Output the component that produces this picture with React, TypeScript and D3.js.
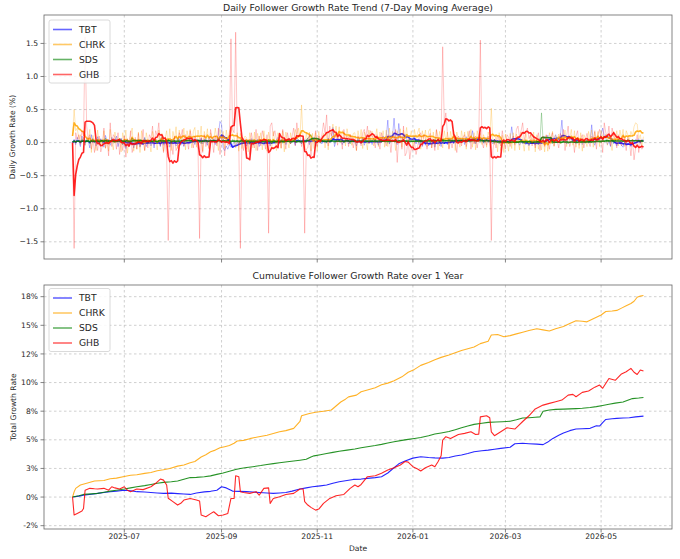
import React from "react";
import * as d3 from "d3";

// ---------- data ----------
const START_UTC = Date.UTC(2025, 4, 29); // first observation: 2025-05-29
const DAY_MS = 86400000;

const seriesNames = ["TBT", "CHRK", "SDS", "GHB"];
const seriesColors = ["#0000ff", "#ffa500", "#008000", "#ff0000"];

const xTickDates = ["2025-07-01", "2025-09-01", "2025-11-01", "2026-01-01", "2026-03-01", "2026-05-01"];
const xTickLabels = ["2025-07", "2025-09", "2025-11", "2026-01", "2026-03", "2026-05"];
const dailyTicks = [-1.5, -1, -0.5, 0, 0.5, 1, 1.5];
const dailyTickLabels = ["−1.5", "−1.0", "−0.5", "0.0", "0.5", "1.0", "1.5"];
const cumTicks = [-2.5, 0, 2.5, 5, 7.5, 10, 12.5, 15, 17.5];
const cumTickLabels = ["-2%", "0%", "3%", "5%", "8%", "10%", "12%", "15%", "18%"];

// daily growth rate (%), one value per day from 2025-05-29
const tbtDaily = [
  0.00, 0.05, -0.03, 0.08, 0.02, -0.06, 0.10, 0.01, -0.04, 0.07,
  0.03, -0.08, 0.12, 0.00, 0.04, -0.05, 0.09, -0.02, 0.06, 0.01,
  -0.07, 0.11, 0.02, 0.05, -0.04, 0.08, -0.01, 0.03, 0.10, -0.06,
  0.04, 0.07, -0.03, 0.02, -0.09, 0.03, -0.05, -0.02, 0.06, -0.08,
  0.01, -0.04, 0.05, -0.07, 0.02, -0.03, 0.08, -0.06, -0.01, 0.04,
  -0.05, 0.03, -0.08, 0.06, -0.02, 0.01, -0.06, 0.09, -0.04, 0.00,
  -0.03, 0.05, -0.07, 0.02, -0.01, 0.04, -0.05, -0.02, 0.06, -0.04,
  0.01, -0.06, 0.03, 0.00, -0.02, 0.08, 0.02, 0.06, -0.03, 0.05,
  0.04, 0.00, 0.07, -0.02, 0.05, 0.03, -0.04, 0.09, 0.02, 0.01,
  0.06, -0.03, 0.04, 0.12, 0.32, 0.28, -0.08, -0.12, -0.05, -0.10,
  -0.03, -0.07, -0.04, 0.02, -0.06, 0.01, -0.03, 0.04, -0.02, 0.00,
  0.03, -0.05, 0.02, -0.03, 0.06, -0.04, 0.00, -0.02, 0.05, -0.06,
  0.02, -0.01, -0.04, 0.03, -0.02, 0.04, -0.05, 0.01, 0.02, -0.01,
  0.04, 0.08, -0.02, 0.05, 0.00, 0.07, -0.03, 0.03, 0.06, -0.01,
  0.05, 0.02, -0.04, 0.09, 0.01, 0.04, -0.02, 0.06, 0.03, 0.00,
  0.07, -0.03, 0.04, 0.02, 0.08, -0.05, 0.03, 0.06, 0.01, -0.02,
  0.05, 0.03, -0.01, 0.07, 0.00, 0.04, 0.23, -0.06, 0.02, 0.05,
  0.01, 0.06, -0.03, 0.04, 0.02, 0.07, -0.02, 0.03, 0.05, 0.00,
  0.04, -0.05, 0.06, 0.01, -0.02, 0.08, -0.04, 0.03, 0.02, -0.01,
  0.05, -0.03, 0.07, 0.00, 0.02, -0.04, 0.06, 0.03, 0.10, 0.05,
  0.08, 0.34, -0.02, 0.06, 0.10, 0.37, 0.04, -0.03, 0.29, 0.07,
  0.09, 0.02, 0.12, 0.05, -0.01, 0.08, 0.03, 0.06, 0.10, -0.02,
  0.04, -0.03, 0.01, -0.06, 0.02, -0.04, 0.03, -0.05, 0.00, -0.02,
  0.05, -0.07, 0.02, -0.01, 0.03, -0.06, 0.04, -0.02, 0.01, -0.03,
  0.06, 0.01, 0.04, -0.02, 0.08, 0.03, 0.00, 0.07, 0.02, 0.05,
  -0.03, 0.09, 0.04, 0.01, 0.06, 0.18, 0.03, -0.02, 0.07, 0.04,
  0.02, 0.05, -0.01, 0.08, 0.03, 0.00, 0.06, 0.04, -0.02, 0.05,
  0.01, 0.03, -0.02, 0.04, 0.00, 0.02, -0.01, 0.03, 0.01, 0.05,
  0.24, 0.06, 0.02, -0.01, 0.03, -0.04, 0.01, -0.02, 0.02, -0.03,
  0.00, -0.05, 0.03, -0.02, 0.01, -0.04, 0.02, -0.03, 0.01, 0.00,
  0.05, 0.09, 0.02, 0.11, 0.04, 0.08, 0.00, 0.07, 0.12, 0.03,
  0.06, 0.10, 0.34, 0.02, 0.05, -0.02, 0.08, 0.04, 0.06, 0.01,
  0.05, -0.02, 0.04, 0.01, 0.06, -0.03, 0.03, 0.02, 0.05, -0.01,
  0.03, 0.27, 0.01, -0.04, 0.05, 0.09, 0.04, 0.12, 0.22, 0.10,
  0.06, -0.03, 0.02, -0.06, 0.04, -0.02, 0.01, -0.05, 0.03, 0.00,
  -0.04, -0.07, 0.02, -0.05, -0.03, 0.01, -0.06, 0.04, 0.02, 0.05,
  0.03, 0.06, -0.01, 0.04, 0.02,
];

const chrkDaily = [
  0.10, 0.50, 0.18, 0.22, 0.05, 0.12, 0.03, 0.08, -0.04, 0.06,
  0.02, 0.20, -0.15, 0.11, 0.03, -0.12, 0.19, 0.00, 0.05, -0.06,
  0.18, -0.09, 0.04, -0.13, 0.20, 0.02, -0.11, 0.16, 0.03, 0.00,
  0.07, -0.14, 0.15, 0.02, 0.19, -0.16, 0.03, 0.11, 0.22, -0.13,
  0.04, -0.10, 0.16, -0.15, 0.18, 0.02, -0.12, 0.15, 0.03, 0.01,
  -0.14, 0.17, 0.02, 0.05, -0.11, 0.19, 0.00, 0.14, -0.13, 0.06,
  0.18, -0.07, 0.21, -0.12, 0.17, 0.05, 0.24, -0.09, 0.19, 0.04,
  0.06, 0.22, -0.11, 0.18, 0.05, 0.20, -0.08, 0.17, 0.23, -0.07,
  0.19, 0.04, 0.25, -0.13, 0.17, 0.06, 0.21, -0.08, 0.15, 0.08,
  0.03, 0.22, 0.06, -0.12, 0.20, 0.04, 0.17, -0.09, 0.19, 0.05,
  0.16, 0.24, 0.10, 0.08, -0.08, 0.15, -0.13, 0.14, -0.09, 0.06,
  0.10, 0.07, -0.14, 0.15, 0.03, -0.08, 0.16, -0.12, 0.14, 0.01,
  0.15, -0.11, 0.18, 0.02, -0.13, 0.16, 0.03, -0.10, 0.17, 0.02,
  -0.12, 0.15, 0.04, -0.09, 0.18, -0.14, 0.16, 0.03, -0.08, 0.15,
  0.01, 0.04, 0.20, 0.12, 0.22, 0.08, 0.57, 0.03, -0.12, 0.15,
  0.02, 0.16, -0.13, 0.14, -0.09, 0.15, -0.12, 0.17, 0.00, 0.03,
  0.14, -0.08, 0.16, -0.11, 0.15, 0.12, 0.28, 0.09, 0.25, 0.06,
  0.24, 0.00, 0.18, 0.16, -0.05, 0.21, 0.07, 0.13, -0.04, 0.14,
  0.15, -0.12, 0.18, 0.03, 0.20, -0.09, 0.16, 0.04, -0.11, 0.19,
  0.02, 0.17, -0.05, 0.07, 0.21, -0.06, 0.16, 0.00, 0.18, -0.07,
  0.19, -0.06, 0.22, 0.01, 0.17, 0.10, -0.12, 0.18, 0.06, 0.21,
  -0.07, 0.19, 0.05, 0.23, 0.02, 0.07, 0.18, -0.06, 0.20, 0.06,
  0.15, 0.22, -0.10, 0.18, 0.06, 0.19, -0.07, 0.17, 0.21, -0.08,
  0.16, -0.06, 0.19, -0.11, 0.17, 0.05, -0.08, 0.18, 0.03, 0.16,
  -0.09, 0.17, 0.04, 0.19, -0.12, 0.16, 0.05, -0.07, 0.18, 0.02,
  0.16, -0.10, 0.17, 0.04, 0.20, -0.07, 0.15, -0.11, 0.18, 0.06,
  0.14, -0.03, 0.12, 0.05, -0.07, 0.16, 0.08, 0.52, 0.01, -0.03,
  0.12, -0.14, 0.15, -0.12, 0.11, -0.15, 0.13, 0.00, -0.13, 0.14,
  -0.09, 0.15, -0.12, 0.13, 0.04, -0.11, 0.16, 0.02, -0.13, 0.15,
  0.03, -0.12, 0.14, 0.01, 0.16, -0.14, 0.12, -0.10, 0.07, -0.11,
  0.08, -0.14, 0.11, -0.13, 0.15, 0.02, 0.17, -0.06, 0.11, 0.06,
  0.13, -0.02, 0.12, 0.05, 0.19, -0.06, 0.09, 0.07, 0.20, -0.04,
  0.18, -0.07, 0.08, -0.09, 0.15, -0.13, 0.12, 0.06, -0.06, 0.17,
  0.05, 0.19, -0.07, 0.16, 0.02, 0.17, -0.06, 0.18, 0.10, 0.05,
  0.13, -0.04, 0.11, 0.04, -0.12, 0.17, 0.03, 0.18, -0.05, 0.19,
  0.06, 0.20, -0.06, 0.18, 0.12, 0.03, 0.17, 0.09, 0.24, 0.30,
  0.28, 0.06, 0.12, -0.06, 0.09,
];

const sdsDaily = [
  0.01, 0.03, 0.00, 0.04, 0.02, -0.01, 0.05, 0.03, 0.01, 0.02,
  0.04, -0.02, 0.03, 0.06, 0.00, 0.02, 0.05, -0.01, 0.03, 0.04,
  0.02, 0.07, -0.02, 0.03, 0.01, 0.05, 0.02, 0.00, 0.04, 0.03,
  0.06, 0.01, -0.03, 0.04, 0.02, 0.05, 0.00, 0.03, 0.07, 0.01,
  0.02, 0.04, -0.01, 0.05, 0.03, 0.00, 0.06, 0.02, -0.02, 0.04,
  0.03, 0.01, 0.05, 0.02, -0.01, 0.04, 0.06, 0.00, 0.02, 0.03,
  0.01, 0.05, 0.02, -0.02, 0.04, 0.03, 0.00, 0.06, 0.02, 0.04,
  0.03, -0.01, 0.05, 0.02, 0.07, 0.01, 0.03, 0.00, 0.04, 0.02,
  0.05, 0.01, -0.02, 0.04, 0.03, 0.06, 0.00, 0.02, 0.05, 0.01,
  0.03, 0.04, -0.01, 0.06, 0.02, 0.00, 0.05, 0.03, 0.01, 0.04,
  0.02, -0.02, 0.05, 0.03, 0.01, 0.04, 0.00, 0.02, 0.06, -0.01,
  0.03, 0.01, 0.04, -0.02, 0.02, 0.05, 0.00, 0.03, 0.01, 0.02,
  0.04, -0.01, 0.02, 0.03, 0.00, 0.05, 0.01, -0.02, 0.04, 0.02,
  0.01, 0.03, 0.00, 0.04, -0.01, 0.02, 0.05, 0.01, 0.03, -0.02,
  0.02, 0.04, 0.01, 0.00, 0.05, 0.02, -0.01, 0.03, 0.02, 0.04,
  0.07, 0.09, 0.12, 0.06, 0.04, 0.01, 0.03, 0.02, -0.01, 0.04,
  0.02, 0.03, 0.00, 0.05, 0.01, 0.04, 0.02, -0.01, 0.03, 0.02,
  0.04, 0.01, 0.03, 0.00, 0.05, 0.02, 0.03, -0.02, 0.04, 0.02,
  0.03, 0.01, 0.04, 0.02, 0.00, 0.05, 0.02, 0.03, -0.01, 0.04,
  0.02, 0.03, 0.01, 0.05, 0.00, 0.02, 0.04, 0.01, 0.03, 0.02,
  0.04, -0.01, 0.03, 0.02, 0.05, 0.01, 0.03, 0.00, 0.04, 0.02,
  0.01, 0.04, 0.02, 0.03, -0.02, 0.05, 0.02, 0.01, 0.04, 0.03,
  0.02, 0.00, 0.04, 0.03, 0.01, 0.05, 0.02, 0.04, 0.00, 0.03,
  0.03, 0.05, 0.02, 0.04, 0.01, 0.03, 0.06, 0.00, 0.04, 0.02,
  0.05, 0.01, 0.03, 0.04, 0.02, 0.06, 0.00, 0.03, 0.04, 0.02,
  0.03, 0.05, 0.01, 0.04, 0.02, 0.03, 0.06, 0.01, 0.03, 0.04,
  0.02, 0.04, 0.00, 0.03, 0.05, 0.01, 0.02, 0.00, 0.03, -0.01,
  0.02, 0.00, 0.03, -0.01, 0.01, 0.02, 0.00, 0.03, -0.02, 0.01,
  0.02, 0.01, -0.01, 0.03, 0.00, 0.02, 0.04, 0.01, -0.01, 0.02,
  0.00, 0.03, 0.01, -0.02, 0.02, 0.01, 0.03, 0.00, 0.02, 0.45,
  0.03, -0.01, 0.02, 0.00, 0.01, 0.03, -0.02, 0.02, 0.01, 0.00,
  0.02, -0.01, 0.01, 0.03, 0.00, 0.02, -0.02, 0.01, 0.02, 0.00,
  0.01, 0.03, -0.01, 0.02, 0.00, 0.01, 0.02, -0.01, 0.03, 0.01,
  0.02, 0.00, 0.03, 0.01, 0.04, 0.02, 0.03, 0.00, 0.04, 0.02,
  0.03, 0.05, 0.01, 0.02, 0.04, 0.00, 0.03, 0.02, 0.05, 0.01,
  0.03, 0.02, 0.04, 0.01, 0.05, 0.03, 0.02, 0.04, 0.01, 0.03,
  0.02, 0.04, 0.01, 0.03, 0.02,
];

const ghbDaily = [
  0.00, -1.60, 0.15, 0.05, 0.12, -0.03, 0.18, 0.10, 1.60, 0.25,
  0.05, 0.12, -0.10, 0.06, -0.15, 0.02, -0.12, 0.10, -0.14, -0.05,
  0.22, -0.08, 0.05, -0.20, 0.30, -0.06, 0.12, 0.08, -0.10, 0.15,
  -0.18, 0.04, -0.12, 0.10, -0.22, 0.06, -0.05, 0.18, -0.15, -0.04,
  0.08, -0.10, 0.14, -0.06, 0.02, 0.20, -0.12, 0.05, -0.08, 0.12,
  0.06, 0.25, -0.04, 0.18, 0.10, 0.30, -0.05, 0.08, -0.15, 0.04,
  -0.20, -1.48, -0.25, 0.05, -0.18, 0.10, -0.12, -0.06, 0.15, 0.08,
  0.20, -0.05, 0.12, 0.03, -0.10, 0.18, 0.06, -0.08, 0.10, 0.02,
  -0.12, -1.45, 0.08, -0.15, 0.12, -0.06, 0.04, -0.10, 0.20, 0.05,
  -0.15, 0.10, -0.05, 0.22, -0.18, 0.06, 0.12, -0.20, 0.08, -0.04,
  0.05, 1.57, 0.20, 0.15, 1.67, 0.10, -0.05, -1.60, 0.08, -0.12,
  0.06, -0.10, 0.05, -0.18, 0.15, 0.02, -0.08, 0.20, -0.12, 0.10,
  -0.05, 0.18, 0.08, -0.10, 0.12, -1.37, 0.25, 0.30, 0.10, 0.18,
  0.05, -0.05, 0.12, -0.08, 0.20, 0.06, -0.10, 0.15, 0.04, -0.02,
  0.10, 0.22, -0.05, 0.30, 0.08, 0.12, -0.06, 0.05, -1.37, -0.10,
  -0.08, 0.12, -0.20, 0.05, 0.02, 0.18, -0.06, 0.10, 0.04, 0.12,
  0.30, 0.15, 0.42, -0.05, 0.25, 0.10, 0.20, 0.05, 0.12, -0.04,
  0.15, 0.08, -0.10, 0.20, 0.02, 0.10, -0.06, 0.12, 0.05, -0.08,
  0.06, -0.12, 0.10, 0.04, -0.05, 0.15, 0.20, 0.08, 0.25, -0.02,
  0.18, 0.10, 0.06, -0.08, 0.12, 0.04, -0.10, 0.15, 0.02, 0.08,
  -0.05, 0.12, 0.06, -0.15, 0.10, 0.03, 0.20, -0.30, 0.08, 0.14,
  -0.10, 0.25, -0.20, -0.15, 0.05, -0.25, -0.08, -0.12, 0.02, -0.18,
  -0.06, 0.10, 0.15, -0.05, 0.12, 0.08, -0.10, 0.06, 0.14, -0.08,
  0.05, -0.12, 0.20, 0.08, -0.05, 0.10, 1.45, 0.30, 0.45, 0.15,
  -0.10, 0.05, -0.08, 0.12, 0.02, -0.15, 0.10, 0.06, -0.05, 0.08,
  0.12, -0.06, 0.04, 0.18, -0.10, 0.05, -0.02, 0.10, -0.08, 0.06,
  1.55, 0.02, -0.08, 0.05, -0.04, 0.10, -0.05, -1.48, -0.12, 0.05,
  -0.08, 0.10, 0.06, -0.05, 0.18, 0.02, -0.10, 0.12, 0.08, -0.06,
  0.05, 0.10, -0.04, 0.20, 0.25, 0.08, 0.18, 0.30, 0.02, 0.15,
  0.22, 0.06, 0.12, -0.05, 0.10, -0.08, 0.04, 0.15, -0.12, 0.06,
  0.10, -0.06, 0.12, 0.04, -0.10, 0.08, 0.15, -0.05, 0.06, 0.02,
  -0.08, 0.14, 0.05, 0.20, -0.12, 0.10, 0.25, -0.06, 0.04, 0.08,
  -0.15, 0.10, 0.18, -0.04, 0.06, 0.12, -0.08, 0.05, 0.14, 0.02,
  -0.06, 0.10, 0.04, 0.18, -0.10, 0.12, 0.20, 0.06, -0.15, 0.30,
  0.15, 0.08, 0.25, -0.05, 0.22, 0.10, 0.05, -0.08, 0.12, 0.04,
  -0.05, 0.10, 0.06, -0.12, 0.08, 0.02, -0.20, 0.05, -0.26, -0.08,
  0.12, -0.15, 0.04, -0.10, -0.05,
];

// cumulative growth (%), [days since 2025-05-29, value]
const tbtCumulative: [number, number][] = [
  [0, 0], [4, 0.08], [7, 0.17], [12, 0.25], [16, 0.32], [20, 0.4], [24, 0.47], [28, 0.52], [33, 0.6],
  [37, 0.55], [41, 0.47], [46, 0.44], [50, 0.4], [54, 0.36], [58, 0.32], [63, 0.34], [67, 0.3], [71, 0.27],
  [75, 0.23], [79, 0.35], [84, 0.45], [88, 0.5], [92, 0.6], [95, 0.9], [98, 0.8], [102, 0.52], [106, 0.5],
  [111, 0.47], [115, 0.44], [119, 0.4], [124, 0.36], [128, 0.32], [132, 0.36], [136, 0.4], [140, 0.52],
  [145, 0.7], [149, 0.8], [153, 0.9], [158, 0.98], [162, 1.05], [166, 1.2], [170, 1.34], [175, 1.45],
  [179, 1.54], [184, 1.57], [188, 1.63], [193, 1.7], [197, 1.78], [201, 2.1], [204, 2.45], [208, 2.9],
  [212, 3.15], [217, 3.4], [222, 3.52], [227, 3.45], [231, 3.42], [236, 3.4], [240, 3.45], [244, 3.58],
  [248, 3.67], [252, 3.8], [256, 3.96], [261, 4.05], [265, 4.1], [269, 4.18], [273, 4.25], [279, 4.35],
  [282, 4.65], [287, 4.7], [291, 4.66], [296, 4.62], [300, 4.58], [303, 4.8], [306, 5.1], [310, 5.4],
  [313, 5.6], [317, 5.8], [321, 5.94], [325, 5.97], [330, 6.0], [334, 6.23], [336, 6.2], [338, 6.5],
  [340, 6.78], [344, 6.84], [347, 6.87], [351, 6.9], [355, 6.93], [359, 7.0], [364, 7.07],
];

const chrkCumulative: [number, number][] = [
  [0, 0], [1, 0.45], [2, 0.76], [5, 1.05], [9, 1.2], [14, 1.4], [20, 1.45], [24, 1.6], [28, 1.65],
  [33, 1.8], [37, 1.9], [41, 1.95], [46, 2.07], [50, 2.15], [54, 2.3], [58, 2.38], [62, 2.5], [67, 2.7],
  [71, 2.8], [75, 3.0], [78, 3.1], [82, 3.5], [85, 3.7], [88, 3.96], [91, 4.1], [94, 4.3], [97, 4.4],
  [100, 4.5], [103, 4.7], [105, 4.9], [109, 4.95], [113, 5.1], [118, 5.25], [124, 5.4], [128, 5.55],
  [132, 5.7], [136, 5.8], [141, 6.0], [143, 6.3], [145, 6.6], [146, 7.1], [151, 7.3], [155, 7.4],
  [160, 7.5], [165, 7.6], [168, 7.95], [171, 8.3], [174, 8.55], [176, 8.75], [181, 8.9], [184, 9.2],
  [188, 9.35], [193, 9.55], [197, 9.8], [201, 9.95], [205, 10.15], [210, 10.5], [214, 10.9], [218, 11.15],
  [222, 11.5], [227, 11.75], [231, 12.0], [235, 12.2], [240, 12.4], [244, 12.6], [248, 12.8], [252, 12.95],
  [256, 13.1], [260, 13.4], [265, 13.6], [267, 14.15], [271, 14.2], [275, 14.0], [279, 14.1], [283, 14.25],
  [287, 14.4], [291, 14.55], [296, 14.7], [300, 14.6], [304, 14.5], [308, 14.7], [313, 14.9], [317, 15.15],
  [321, 15.4], [325, 15.35], [328, 15.3], [331, 15.5], [334, 15.7], [337, 15.9], [340, 16.2], [344, 16.25],
  [347, 16.3], [350, 16.5], [353, 16.7], [356, 16.9], [358, 17.1], [360, 17.45], [362, 17.55], [364, 17.6],
];

const sdsCumulative: [number, number][] = [
  [0, 0], [4, 0.12], [7, 0.23], [12, 0.28], [16, 0.32], [20, 0.42], [24, 0.52], [28, 0.6], [33, 0.7],
  [37, 0.8], [41, 0.9], [46, 1.0], [50, 1.1], [54, 1.2], [58, 1.28], [63, 1.33], [67, 1.4], [71, 1.55],
  [75, 1.7], [79, 1.72], [84, 1.78], [88, 1.85], [92, 1.98], [96, 2.1], [100, 2.25], [104, 2.4], [107, 2.5],
  [111, 2.58], [115, 2.65], [120, 2.75], [124, 2.85], [128, 2.92], [132, 3.0], [137, 3.08], [141, 3.15],
  [145, 3.22], [149, 3.3], [152, 3.5], [154, 3.6], [158, 3.7], [162, 3.8], [166, 3.9], [170, 4.0],
  [175, 4.1], [180, 4.2], [184, 4.3], [188, 4.4], [193, 4.5], [197, 4.6], [201, 4.72], [205, 4.83],
  [210, 4.95], [214, 5.04], [218, 5.12], [222, 5.2], [227, 5.35], [231, 5.5], [235, 5.6], [240, 5.72],
  [244, 5.88], [248, 6.05], [252, 6.2], [256, 6.35], [261, 6.45], [265, 6.52], [270, 6.55], [274, 6.58],
  [279, 6.62], [283, 6.75], [287, 6.9], [291, 6.93], [295, 6.97], [298, 7.0], [300, 7.5], [304, 7.6],
  [308, 7.66], [313, 7.68], [317, 7.7], [321, 7.72], [325, 7.75], [330, 7.82], [334, 7.9], [338, 8.0],
  [342, 8.1], [346, 8.2], [351, 8.3], [354, 8.45], [357, 8.6], [361, 8.65], [364, 8.7],
];

const ghbCumulative: [number, number][] = [
  [0, 0], [1, -1.57], [3, -1.43], [6, -1.22], [7, -1.0], [8, 0.6], [11, 0.76], [14, 0.72], [16, 0.7],
  [20, 0.76], [23, 0.6], [25, 0.9], [27, 0.8], [30, 0.7], [33, 0.9], [35, 0.6], [37, 0.47], [41, 0.7],
  [45, 0.65], [50, 0.9], [53, 1.2], [56, 1.57], [58, 1.48], [60, 1.05], [61, -0.1], [64, -0.4], [67, -0.7],
  [69, -0.55], [71, -0.26], [75, -0.12], [79, -0.26], [81, -0.35], [82, -1.57], [85, -1.72], [88, -1.45],
  [90, -1.28], [93, -1.63], [96, -1.57], [99, -1.43], [101, -0.12], [103, -0.12], [104, 1.86], [106, 1.78],
  [107, 0.47], [109, 0.4], [113, 0.32], [117, 0.47], [119, 0.17], [122, 0.76], [125, 0.8], [126, -0.55],
  [128, -0.12], [132, 0.03], [136, 0.23], [141, 0.32], [145, 0.7], [147, 0.7], [148, -0.4], [150, -0.7],
  [152, -0.9], [155, -1.14], [157, -1.05], [160, -0.55], [164, -0.12], [168, 0.12], [173, 0.23], [177, 0.76],
  [180, 1.05], [182, 0.9], [184, 1.1], [188, 1.78], [193, 1.86], [197, 2.07], [201, 2.36], [205, 2.56],
  [209, 2.8], [212, 3.1], [214, 3.05], [217, 2.65], [220, 2.45], [222, 2.27], [225, 2.56], [229, 2.8],
  [231, 2.65], [233, 3.09], [235, 3.6], [236, 4.98], [238, 5.27], [241, 5.12], [246, 5.47], [250, 5.56],
  [254, 5.7], [257, 5.47], [259, 5.5], [260, 7.0], [264, 7.1], [266, 6.93], [267, 5.7], [269, 5.36],
  [273, 5.7], [277, 6.05], [282, 5.94], [284, 6.2], [287, 6.6], [291, 7.1], [295, 7.7], [300, 8.03],
  [304, 8.18], [308, 8.33], [312, 8.47], [316, 8.9], [319, 8.97], [321, 8.76], [325, 9.14], [329, 9.26],
  [333, 9.6], [336, 9.78], [338, 9.5], [342, 10.36], [346, 10.2], [350, 10.75], [353, 10.95], [356, 11.24],
  [358, 10.9], [360, 10.7], [362, 11.1], [364, 11.0],
];

const dailySeries = [tbtDaily, chrkDaily, sdsDaily, ghbDaily];
const cumulativeSeries = [tbtCumulative, chrkCumulative, sdsCumulative, ghbCumulative];

// ---------- helpers ----------
const dayToDate = (d: number) => new Date(START_UTC + d * DAY_MS);
function rollingMean(values: number[], w: number): number[] {
  return values.map((_, i) => {
    const s = values.slice(Math.max(0, i - w + 1), i + 1);
    return d3.mean(s) as number;
  });
}

// ---------- layout ----------
const W = 680;
const H = 559;
const L = 44;
const R = 672;
const T1 = 15;
const B1 = 259;
const T2 = 285;
const B2 = 529;
const FONT = "DejaVu Sans, Liberation Sans, sans-serif";
const TXT = "#262626";
const GRID = "#c4c4c4";
const AXIS = "#666";

export default function App() {
  const nDays = tbtDaily.length;
  const span = (nDays - 1) * 0.05;
  const x = d3
    .scaleUtc()
    .domain([dayToDate(-span), dayToDate(nDays - 1 + span)])
    .range([L, R]);
  const yTop = d3.scaleLinear().domain([-1.76, 1.93]).range([B1, T1]);
  const yBot = d3.scaleLinear().domain([-2.79, 18.52]).range([B2, T2]);

  const xTicks = xTickDates.map((s) => new Date(s + "T00:00:00Z"));

  const dailyLine = d3
    .line<number>()
    .x((_, i) => x(dayToDate(i)))
    .y((v) => yTop(v));
  const cumLine = d3
    .line<[number, number]>()
    .x((p) => x(dayToDate(p[0])))
    .y((p) => yBot(p[1]));

  const grid = (top: number, bottom: number, yScale: d3.ScaleLinear<number, number>, yt: number[]) => (
    <g>
      {xTicks.map((t, i) => (
        <line key={"gx" + i} x1={x(t)} x2={x(t)} y1={top} y2={bottom} stroke={GRID} strokeWidth={0.8} strokeDasharray="2.5,2.5" />
      ))}
      {yt.map((v, i) => (
        <line key={"gy" + i} x1={L} x2={R} y1={yScale(v)} y2={yScale(v)} stroke={GRID} strokeWidth={0.8} strokeDasharray="2.5,2.5" />
      ))}
    </g>
  );

  const frame = (top: number, bottom: number, yScale: d3.ScaleLinear<number, number>, yt: number[], labels: string[]) => (
    <g>
      <rect x={L} y={top} width={R - L} height={bottom - top} fill="none" stroke={AXIS} strokeWidth={0.8} />
      {xTicks.map((t, i) => (
        <line key={"tx" + i} x1={x(t)} x2={x(t)} y1={bottom} y2={bottom + 3.5} stroke={AXIS} strokeWidth={0.8} />
      ))}
      {yt.map((v, i) => (
        <g key={"ty" + i}>
          <line x1={L - 3.5} x2={L} y1={yScale(v)} y2={yScale(v)} stroke={AXIS} strokeWidth={0.8} />
          <text x={L - 6} y={yScale(v)} dy="0.35em" textAnchor="end" fontSize={7.6} fill={TXT} fontFamily={FONT}>
            {labels[i]}
          </text>
        </g>
      ))}
    </g>
  );

  const legend = (boxTop: number, lineWidth: number) => (
    <g>
      <rect x={49} y={boxTop} width={61} height={63} rx={2} fill="#fff" fillOpacity={0.85} stroke="#d0d0d0" strokeWidth={0.8} />
      {seriesNames.map((name, i) => {
        const yy = boxTop + 9.5 + i * 15;
        return (
          <g key={name}>
            <line x1={53} x2={72} y1={yy} y2={yy} stroke={seriesColors[i]} strokeOpacity={0.6} strokeWidth={lineWidth} />
            <text x={79} y={yy} dy="0.36em" fontSize={9.2} fill={TXT} fontFamily={FONT}>
              {name}
            </text>
          </g>
        );
      })}
    </g>
  );

  return (
    <svg width={W} height={H} style={{ position: "absolute", left: 0, top: 0, background: "#fff" }}>
      <rect x={0} y={0} width={W} height={H} fill="#fff" />
      {/* ---------- top panel ---------- */}
      {grid(T1, B1, yTop, dailyTicks)}
      {dailySeries.map((vals, i) => (
        <g key={"d" + i}>
          <path d={dailyLine(vals) || ""} fill="none" stroke={seriesColors[i]} strokeOpacity={i === 3 ? 0.22 : 0.28} strokeWidth={1} />
          <path d={dailyLine(rollingMean(vals, 7)) || ""} fill="none" stroke={seriesColors[i]} strokeOpacity={0.85} strokeWidth={1.6} strokeLinejoin="round" />
        </g>
      ))}
      {frame(T1, B1, yTop, dailyTicks, dailyTickLabels)}
      {legend(20, 1.6)}
      <text x={(L + R) / 2} y={10.6} textAnchor="middle" fontSize={9.3} fill={TXT} fontFamily={FONT}>
        Daily Follower Growth Rate Trend (7-Day Moving Average)
      </text>
      <text transform={`translate(12.5,${(T1 + B1) / 2}) rotate(-90)`} textAnchor="middle" dy="0.35em" fontSize={7.6} fill={TXT} fontFamily={FONT}>
        Daily Growth Rate (%)
      </text>

      {/* ---------- bottom panel ---------- */}
      {grid(T2, B2, yBot, cumTicks)}
      {cumulativeSeries.map((pts, i) => (
        <path key={"c" + i} d={cumLine(pts) || ""} fill="none" stroke={seriesColors[i]} strokeOpacity={0.85} strokeWidth={1.1} strokeLinejoin="round" />
      ))}
      {frame(T2, B2, yBot, cumTicks, cumTickLabels)}
      {xTicks.map((t, i) => (
        <text key={"xl" + i} x={x(t)} y={536.7} dy="0.35em" textAnchor="middle" fontSize={7.6} fill={TXT} fontFamily={FONT}>
          {xTickLabels[i]}
        </text>
      ))}
      {legend(288.5, 1.6)}
      <text x={(L + R) / 2} y={279.4} textAnchor="middle" fontSize={9.3} fill={TXT} fontFamily={FONT}>
        Cumulative Follower Growth Rate over 1 Year
      </text>
      <text transform={`translate(13.5,${(T2 + B2) / 2}) rotate(-90)`} textAnchor="middle" dy="0.35em" fontSize={7.6} fill={TXT} fontFamily={FONT}>
        Total Growth Rate
      </text>
      <text x={(L + R) / 2} y={548} dy="0.35em" textAnchor="middle" fontSize={7.6} fill={TXT} fontFamily={FONT}>
        Date
      </text>
    </svg>
  );
}
